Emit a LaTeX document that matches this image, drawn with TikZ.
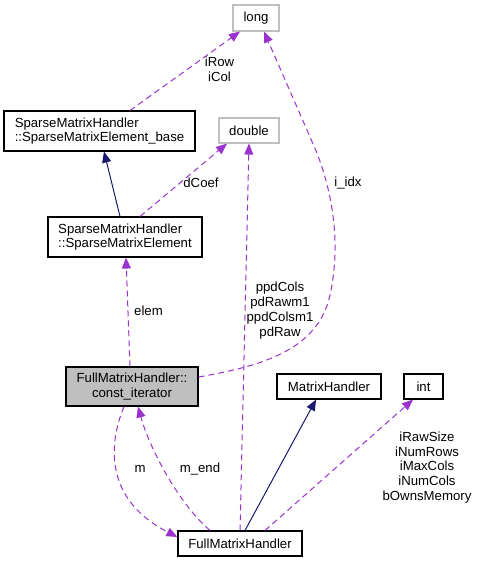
\documentclass[tikz,border=0pt]{standalone}
\usepackage{fontspec}
\setmainfont{Liberation Sans}
\usepackage{tikz}
\usetikzlibrary{arrows.meta, positioning}
\definecolor{edgepurple}{RGB}{154, 50, 205}
\definecolor{edgenavy}{RGB}{25, 25, 112}
\definecolor{boxgray}{RGB}{191, 191, 191}

\begin{document}
\begin{tikzpicture}[x=1pt, y=-1pt,
    every node/.style={font=\fontsize{13.2}{14.8}\selectfont},
    cls/.style={draw=black, line width=1.1pt, fill=white, inner sep=0pt, align=left},
    prim/.style={draw=boxgray, line width=1.1pt, fill=white, inner sep=0pt},
    usage/.style={draw=edgepurple, line width=1pt, dash pattern=on 6pt off 4pt, -{Triangle[length=11pt, width=9pt]}},
    inherit/.style={draw=edgenavy, line width=1pt, -{Triangle[length=11pt, width=9pt]}},
    lbl/.style={align=center, inner sep=0pt}]
    \useasboundingbox (0,0) rectangle (477,563);

    \node[prim, minimum width=46pt, minimum height=26pt] (long) at (256,18) {long};
    \node[cls, minimum width=191pt, minimum height=40pt] (base) at (99.5,131) {SparseMatrixHandler\\::SparseMatrixElement\_base};
    \node[prim, minimum width=60pt, minimum height=25pt] (double) at (249,130.5) {double};
    \node[cls, minimum width=154pt, minimum height=40pt] (elem) at (125,237) {SparseMatrixHandler\\::SparseMatrixElement};
    \node[cls, fill=boxgray, align=center, minimum width=132pt, minimum height=39pt] (iter) at (132,386.5) {FullMatrixHandler::\\const\_iterator};
    \node[cls, minimum width=104pt, minimum height=25pt] (mh) at (329,386.5) {MatrixHandler};
    \node[cls, minimum width=39pt, minimum height=25pt] (int) at (423.5,386.5) {int};
    \node[cls, minimum width=124pt, minimum height=25pt] (fmh) at (240,543.5) {FullMatrixHandler};

    \draw[usage] ([xshift=30.5pt]base.north) -- ([xshift=-16pt]long.south);
    \draw[inherit] ([xshift=-5pt]elem.north) -- ([xshift=4.5pt]base.south);
    \draw[usage] ([xshift=15pt]elem.north) -- ([xshift=-22pt]double.south);
    \draw[usage] ([xshift=-2pt]iter.north) -- ([xshift=1pt]elem.south);
    \draw[usage] ([yshift=9.5pt]iter.east) .. controls (262,366) and (318,350) .. (330,295)
        .. controls (340,250) and (335,200) .. (317,153) -- ([xshift=8pt]long.south);
    \draw[usage] (fmh.north) -- (double.south);
    \draw[inherit] ([xshift=5pt]fmh.north) -- ([xshift=-13pt]mh.south);
    \draw[usage] ([xshift=25pt]fmh.north) -- ([xshift=-10.5pt]int.south);
    \draw[usage] ([xshift=-8pt]iter.south) .. controls (108,445) and (105,500) .. ([yshift=6.5pt]fmh.west);
    \draw[usage] ([xshift=-30pt]fmh.north) .. controls (180,505) and (150,450) .. ([xshift=6pt]iter.south);

    \node[lbl] (lrow) at (219.5,69.5) {iRow\\iCol};
    \node[lbl] (lcoef) at (201,183) {dCoef};
    \node[lbl] (lelem) at (148.5,311) {elem};
    \node[lbl] (lidx) at (348,183) {i\_idx};
    \node[lbl] (lptr) at (280,310.5) {ppdCols\\pdRawm1\\ppdColsm1\\pdRaw};
    \node[lbl] (lint) at (427,467.5) {iRawSize\\iNumRows\\iMaxCols\\iNumCols\\bOwnsMemory};
    \node[lbl] (lm) at (140,469) {m};
    \node[lbl] (lend) at (200,469) {m\_end};
\end{tikzpicture}
\end{document}
